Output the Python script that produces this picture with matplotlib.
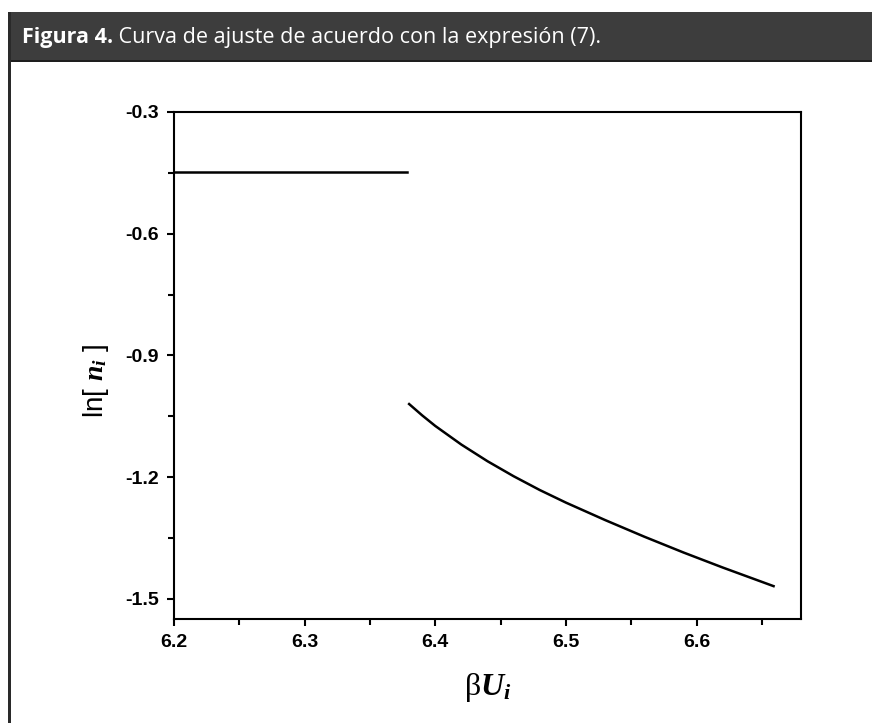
import numpy as np
import matplotlib.pyplot as plt
from matplotlib.patches import Rectangle
from matplotlib.ticker import MultipleLocator

# dados
x_reta = [6.2, 6.378]
y_reta = [-0.448, -0.448]

x_curva = [6.38, 6.39, 6.40, 6.42, 6.44, 6.46, 6.48, 6.50, 6.53, 6.56, 6.59, 6.62, 6.659]
y_curva = [-1.020, -1.048, -1.074, -1.120, -1.161, -1.198, -1.232, -1.263, -1.306, -1.347, -1.386, -1.423, -1.469]

titulo_b = "Figura 4."
titulo = " Curva de ajuste de acuerdo con la expresión (7)."

plt.rcParams['mathtext.fontset'] = 'custom'
plt.rcParams['mathtext.rm'] = 'Liberation Serif'
plt.rcParams['mathtext.it'] = 'Liberation Serif:italic'
plt.rcParams['mathtext.bf'] = 'Liberation Serif:bold:italic'

fig = plt.figure(figsize=(8.72, 7.23), dpi=100)

# cabeçalho escuro e borda
fig.patches.append(Rectangle((8/872, 1-62/723), 1, 50/723, transform=fig.transFigure,
                             facecolor='#3d3d3d', edgecolor='none'))
fig.patches.append(Rectangle((8/872, 1-62/723), 1, 2/723, transform=fig.transFigure,
                             facecolor='#1e1e1e', edgecolor='none'))
fig.patches.append(Rectangle((8/872, 0), 3/872, 1-12/723, transform=fig.transFigure,
                             facecolor='#2a2a2a', edgecolor='none'))
t = fig.text(22/872, 1-37/723, titulo_b, color='white', fontsize=15.5, fontweight='bold',
             family='Open Sans', va='center')
fig.canvas.draw()
bb = t.get_window_extent()
fig.text(bb.x1/872, 1-37/723, titulo, color='white', fontsize=15.5, family='Open Sans', va='center')

ax = fig.add_axes([174/872, 1-619/723, (801-174)/872, (619-112)/723])
ax.plot(x_reta, y_reta, color='black', lw=1.8)
ax.plot(x_curva, y_curva, color='black', lw=1.8)

ax.set_xlim(6.2, 6.68)
ax.set_ylim(-1.55, -0.3)
ax.xaxis.set_minor_locator(MultipleLocator(0.05))
ax.yaxis.set_minor_locator(MultipleLocator(0.15))
ax.set_xticks([6.2, 6.3, 6.4, 6.5, 6.6])
ax.set_xticklabels(['6.2', '6.3', '6.4', '6.5', '6.6'])
ax.set_yticks([-0.3, -0.6, -0.9, -1.2, -1.5])
ax.set_yticklabels(['-0.3', '-0.6', '-0.9', '-1.2', '-1.5'])

for s in ax.spines.values():
    s.set_linewidth(1.5)
ax.tick_params(which='major', direction='out', length=5, width=1.5, labelsize=14, pad=6)
ax.tick_params(which='minor', direction='out', length=4, width=1.5)
for lab in ax.get_xticklabels() + ax.get_yticklabels():
    lab.set_family('Liberation Sans')
    lab.set_fontweight('bold')

ax.set_xlabel(r'$\mathrm{\beta}\mathbf{U_i}$', fontsize=23, labelpad=14)
ax.set_ylabel(r'ln[ $\mathbf{n_i}$ ]', fontsize=20, family='Liberation Sans')
ax.yaxis.set_label_coords(-0.1, 0.47)

fig.savefig('out.png', dpi=100)
